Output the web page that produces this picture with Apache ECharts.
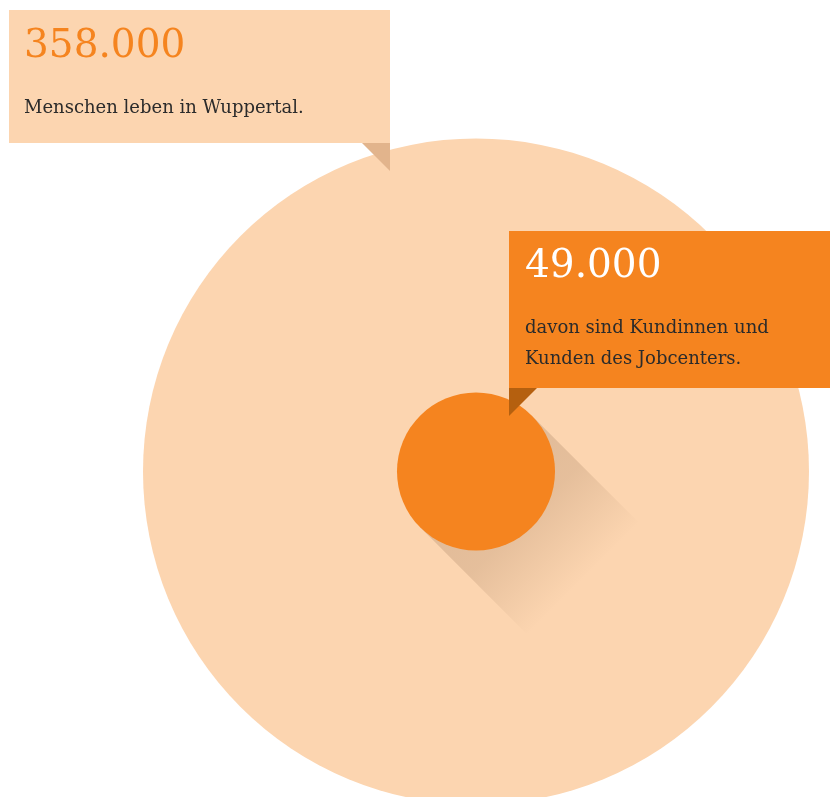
<!DOCTYPE html>
<html>
<head>
<meta charset="utf-8">
<script src="https://cdn.jsdelivr.net/npm/echarts@6/dist/echarts.min.js"></script>
<style>
  html, body { margin: 0; padding: 0; background: #ffffff; }
  #chart { width: 830px; height: 797px; }
</style>
</head>
<body>
<div id="chart"></div>
<script>
// Data
const places = ['Wuppertal'];
const groups = ['Bevölkerung'];
const groupValues = [358000, 49000];
const groupTexts = [
  ['Menschen leben in Wuppertal.'],
  ['davon sind Kundinnen und', 'Kunden des Jobcenters.']
];

// German thousands separator
function formatDe(v) {
  return String(v).replace(/\B(?=(\d{3})+(?!\d))/g, '.');
}

// Circle size scale (value -> pixel diameter)
const maxValue = Math.max(...groupValues);
const maxDiameter = 666;
function diameter(v) {
  return maxDiameter * Math.pow(v / maxValue, 0.7234);
}

const PEACH = '#fcd5b0';
const ORANGE = '#f5841f';
const INK = '#2b2b2b';
const FONT = '"DejaVu Serif", serif';

const points = groupValues.map(v => [places[0], groups[0], v]);
const shadowPoints = [points[1]];

const chart = echarts.init(document.getElementById('chart'), null, { renderer: 'canvas' });

// Long diagonal shadow cast by the inner circle
function renderShadow(params, api) {
  const c = api.coord([0, 0]);
  const r = diameter(shadowPoints[params.dataIndex][2]) / 2;
  const len = r * 1.93;
  const k = Math.SQRT1_2;
  const dx = len * k, dy = len * k;
  const a = [c[0] + r * k, c[1] - r * k];
  const b = [c[0] - r * k, c[1] + r * k];
  return {
    type: 'polygon',
    shape: { points: [a, [a[0] + dx, a[1] + dy], [b[0] + dx, b[1] + dy], b] },
    style: {
      fill: {
        type: 'linear', global: true,
        x: c[0], y: c[1], x2: c[0] + dx, y2: c[1] + dy,
        colorStops: [
          { offset: 0, color: 'rgba(90,55,30,0.17)' },
          { offset: 0.45, color: 'rgba(90,55,30,0.14)' },
          { offset: 1, color: 'rgba(90,55,30,0)' }
        ]
      }
    },
    silent: true
  };
}

function textEl(str, x, y, size, color) {
  return {
    type: 'text', z: 100, silent: true,
    style: { text: str, x: x, y: y, font: size + 'px ' + FONT, fill: color, verticalAlign: 'middle', align: 'left' }
  };
}

chart.setOption({
  animation: false,
  backgroundColor: '#ffffff',
  grid: { left: 122, right: 0, top: 146, bottom: 0 },
  xAxis: { type: 'category', data: places, show: false },
  yAxis: { type: 'category', data: groups, show: false },
  series: [
    {
      type: 'scatter', silent: true, z: 2,
      data: [points[0]],
      symbolSize: v => diameter(v[2]),
      itemStyle: { color: PEACH, opacity: 1 }
    },
    {
      type: 'custom', silent: true, z: 3,
      dimensions: ['x', 'y', 'value'],
      encode: { x: 0, y: 1 },
      data: shadowPoints,
      renderItem: renderShadow,
      clip: false
    },
    {
      type: 'scatter', silent: true, z: 4,
      data: [points[1]],
      symbolSize: v => diameter(v[2]),
      itemStyle: { color: ORANGE, opacity: 1 }
    }
  ],
  graphic: [
    // callout for the total population
    { type: 'rect', z: 100, silent: true, shape: { x: 9, y: 10, width: 381, height: 133 }, style: { fill: PEACH } },
    { type: 'polygon', z: 100, silent: true, shape: { points: [[362, 143], [390, 143], [390, 171]] }, style: { fill: '#e2b48c' } },
    textEl(formatDe(groupValues[0]), 24, 46.5, 39, ORANGE),
    textEl(groupTexts[0][0], 24, 108, 18, INK),
    // callout for the jobcenter customers
    { type: 'rect', z: 100, silent: true, shape: { x: 509, y: 231, width: 321, height: 157 }, style: { fill: ORANGE } },
    { type: 'polygon', z: 100, silent: true, shape: { points: [[509, 388], [537, 388], [509, 416]] }, style: { fill: '#b5600f' } },
    textEl(formatDe(groupValues[1]), 525, 266.5, 39, '#ffffff'),
    textEl(groupTexts[1][0], 525, 328, 18, INK),
    textEl(groupTexts[1][1], 525, 359, 18, INK)
  ]
});
</script>
</body>
</html>
